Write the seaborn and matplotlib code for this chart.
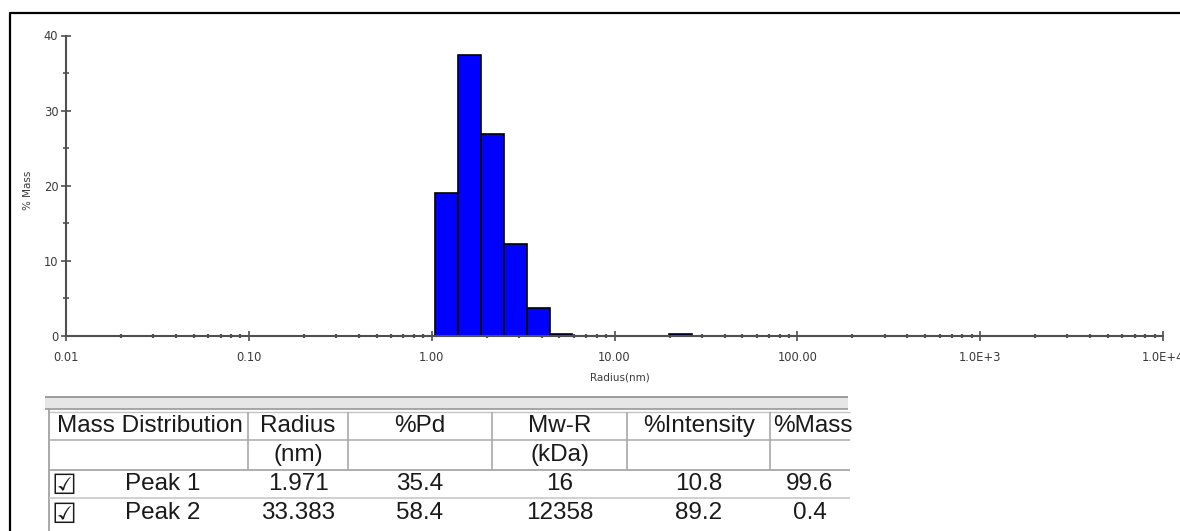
import numpy as np
import pandas as pd
import matplotlib
matplotlib.use("Agg")
import matplotlib.pyplot as plt
import seaborn as sns
from matplotlib.ticker import LogLocator, NullFormatter, MultipleLocator
from matplotlib.lines import Line2D
from matplotlib.patches import Rectangle

# ---------------- data ----------------
peak1_radius_nm = [1.21, 1.61, 2.15, 2.87, 3.82, 5.10]
peak1_mass_pct = [19.0, 37.4, 26.9, 12.2, 3.7, 0.3]
peak2_radius_nm = [23.0]
peak2_mass_pct = [0.3]

x_tick_values = [0.01, 0.1, 1, 10, 100, 1000, 10000]
x_tick_labels = ["0.01", "0.10", "1.00", "10.00", "100.00", "1.0E+3", "1.0E+4"]
y_tick_values = [0, 10, 20, 30, 40]

table_headers = ["Mass Distribution", "Radius", "%Pd", "Mw-R", "%Intensity", "%Mass"]
table_units = ["", "(nm)", "", "(kDa)", "", ""]
table_peaks = ["Peak 1", "Peak 2"]
table_radius = ["1.971", "33.383"]
table_pd = ["35.4", "58.4"]
table_mw = ["16", "12358"]
table_intensity = ["10.8", "89.2"]
table_mass = ["99.6", "0.4"]

# ---------------- figure ----------------
W, H = 1180, 531
sns.set_theme(style="white")
plt.rcParams["font.family"] = ["Liberation Sans", "DejaVu Sans"]

fig = plt.figure(figsize=(W / 100, H / 100), dpi=100)
fig.patch.set_facecolor("white")
ax = fig.add_axes([66 / W, 1 - 336 / H, (1163 - 66) / W, (336 - 35.5) / H])

bar_kw = dict(log_scale=True, color="#0000FF", edgecolor="black",
              linewidth=1.2, alpha=1, stat="count", ax=ax)
df1 = pd.DataFrame({"radius": peak1_radius_nm, "mass": peak1_mass_pct})
df2 = pd.DataFrame({"radius": peak2_radius_nm, "mass": peak2_mass_pct})
bins1 = [0.02 + k / 8 for k in range(7)]
sns.histplot(data=df1, x="radius", weights="mass", bins=bins1, **bar_kw)
sns.histplot(data=df2, x="radius", weights="mass", bins=[1.30, 1.425], **bar_kw)

ax.set_xscale("log")
ax.set_xlim(0.01, 1e4)
ax.set_ylim(0, 40)
ax.set_xticks(x_tick_values, labels=x_tick_labels)
ax.xaxis.set_minor_locator(LogLocator(base=10, subs=np.arange(2, 10), numticks=100))
ax.xaxis.set_minor_formatter(NullFormatter())
ax.set_yticks(y_tick_values, labels=[str(v) for v in y_tick_values])
ax.yaxis.set_minor_locator(MultipleLocator(5))

axis_col = "#505050"
lab_col = "#3a3a3a"
for s in ["top", "right"]:
    ax.spines[s].set_visible(False)
for s in ["left", "bottom"]:
    ax.spines[s].set_color(axis_col)
    ax.spines[s].set_linewidth(1.5)
ax.tick_params(axis="both", which="both", bottom=True, left=True, top=False, right=False)
ax.tick_params(axis="both", which="major", direction="inout", length=7, width=1.2,
               color=axis_col, labelsize=8.3, labelcolor=lab_col)
ax.tick_params(axis="y", which="minor", direction="inout", length=5, width=1.2,
               color=axis_col)
ax.tick_params(axis="x", which="minor", direction="inout", length=3, width=1.6,
               color=axis_col)
ax.tick_params(axis="x", which="major", pad=7)
ax.tick_params(axis="y", which="major", pad=2)
for lbl in ax.get_xticklabels() + ax.get_yticklabels():
    lbl.set_fontfamily("DejaVu Sans")
ax.set_xlabel("Radius(nm)", fontsize=7.5, color=lab_col, family="DejaVu Sans")
ax.set_ylabel("% Mass", fontsize=7.5, color=lab_col, family="DejaVu Sans")
ax.xaxis.set_label_coords(0.505, -0.123)
ax.yaxis.set_label_coords(-0.030, 0.486)
ax.grid(False)


# ---------------- outer frame ----------------
def P(x, y):
    return x / W, 1 - y / H


def line(xs, ys, color, lw):
    fig.add_artist(Line2D([x / W for x in xs], [1 - y / H for y in ys],
                          transform=fig.transFigure, color=color, lw=lw,
                          solid_capstyle="butt"))


line([9.5, 9.5, 1185], [540, 12.5, 12.5], "black", 1.6)

# ---------------- table ----------------
fig.add_artist(Rectangle(P(45, 409), (848 - 45) / W, 12 / H,
                         transform=fig.transFigure, facecolor="#e6e6e6",
                         edgecolor="none"))
line([45, 848], [397, 397], "#8c8c8c", 1.2)
line([45, 848], [409, 409], "#9a9a9a", 1.2)
line([49, 850], [412, 412], "#c4c4c4", 1.0)
line([49, 49], [409, 540], "#9a9a9a", 1.2)
line([49, 850], [440, 440], "#b0b0b0", 1.2)
line([49, 850], [470, 470], "#a0a0a0", 1.2)
line([49, 850], [498, 498], "#c8c8c8", 1.2)
for xv in [248, 348, 492, 627, 770]:
    line([xv, xv], [412, 470], "#a8a8a8", 1.2)

tfs = 17.5
tcol = "#1a1a1a"
col_centers = [None, 298, 420, 559.5, 699, None]
row_y = [426, 455, 484, 513]

fig.text(*P(57, row_y[0]), table_headers[0], fontsize=tfs, color=tcol,
         ha="left", va="center")
for i in range(1, 5):
    fig.text(*P(col_centers[i], row_y[0]), table_headers[i], fontsize=tfs,
             color=tcol, ha="center", va="center")
fig.text(*P(773, row_y[0]), table_headers[5], fontsize=tfs, color=tcol,
         ha="left", va="center")
for i in range(1, 5):
    if table_units[i]:
        fig.text(*P(col_centers[i], row_y[1]), table_units[i], fontsize=tfs,
                 color=tcol, ha="center", va="center")

for r in range(2):
    y = row_y[2 + r]
    fig.text(*P(64, y + 1.5), "\u2611", fontsize=20, color="#1a1a1a",
             family="DejaVu Sans", fontweight="bold", ha="center", va="center")
    fig.text(*P(125, y), table_peaks[r], fontsize=tfs, color=tcol,
             ha="left", va="center")
    vals = [table_radius[r], table_pd[r], table_mw[r], table_intensity[r]]
    for i, v in enumerate(vals, start=1):
        fig.text(*P(col_centers[i], y), v, fontsize=tfs, color=tcol,
                 ha="center", va="center")
    fig.text(*P(810, y), table_mass[r], fontsize=tfs, color=tcol,
             ha="center", va="center")

fig.savefig("out.png", dpi=100)
